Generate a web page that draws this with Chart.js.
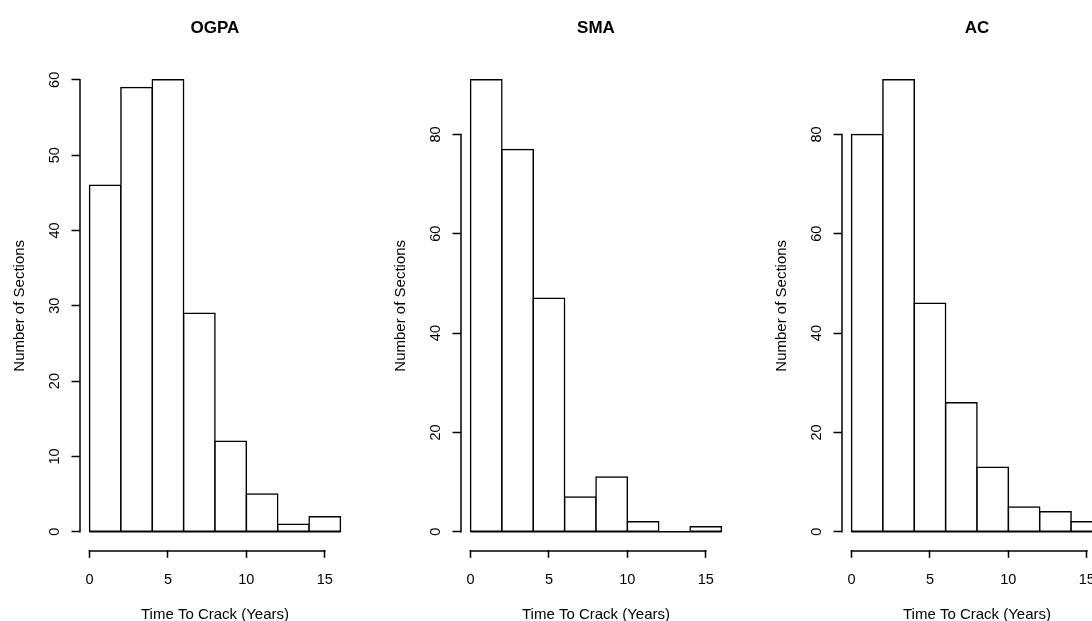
<!DOCTYPE html>
<html>
<head>
<meta charset="utf-8">
<script src="https://cdn.jsdelivr.net/npm/chart.js@4.4.1/dist/chart.umd.min.js"></script>
<style>
  html, body { margin: 0; padding: 0; background: #fff; overflow: hidden; }
  #wrap { position: relative; width: 1092px; height: 621px; overflow: hidden; }
  canvas { position: absolute; top: 0; }
</style>
</head>
<body>
<div id="wrap">
  <canvas id="c-ogpa" width="381" height="621" style="left:0"></canvas>
  <canvas id="c-sma" width="381" height="621" style="left:381px"></canvas>
  <canvas id="c-ac" width="381" height="621" style="left:762px"></canvas>
</div>
<script>
// histogram bins are 2 years wide, these are the bin midpoints
const binMids = [1, 3, 5, 7, 9, 11, 13, 15];
const binRange = [0, 16];

const ogpaCounts = [46, 59, 60, 29, 12, 5, 1, 2];
const smaCounts  = [91, 77, 47, 7, 11, 2, 0, 1];
const acCounts   = [80, 91, 46, 26, 13, 5, 4, 2];

const xTicks = [0, 5, 10, 15];
const ogpaYTicks = [0, 10, 20, 30, 40, 50, 60];
const smaYTicks  = [0, 20, 40, 60, 80];
const acYTicks   = [0, 20, 40, 60, 80];

const INK = '#000';
const FONT = '"Liberation Sans", Arial, sans-serif';
const LW = 1.5; // line width used for outlines and axes

// R-style axis lines: only from first to last tick, plus the zero baseline
const rAxes = {
  id: 'rAxes',
  afterDraw(chart) {
    const { ctx, chartArea, scales: { x, y } } = chart;
    ctx.save();
    ctx.strokeStyle = INK;
    ctx.lineWidth = LW;
    ctx.lineCap = 'butt';
    ctx.beginPath();
    // y axis
    const yl = Math.round(chartArea.left);
    ctx.moveTo(yl, y.getPixelForValue(y.ticks[0].value) + LW / 2);
    ctx.lineTo(yl, y.getPixelForValue(y.ticks[y.ticks.length - 1].value) - LW / 2);
    // x axis
    const xb = Math.round(chartArea.bottom) + 1;
    ctx.moveTo(x.getPixelForValue(x.ticks[0].value) - LW / 2, xb);
    ctx.lineTo(x.getPixelForValue(x.ticks[x.ticks.length - 1].value) + LW / 2, xb);
    // baseline of the histogram (visible under empty bins)
    const y0 = y.getPixelForValue(0);
    ctx.moveTo(x.getPixelForValue(binRange[0]), y0);
    ctx.lineTo(x.getPixelForValue(binRange[1]), y0);
    ctx.stroke();
    ctx.restore();
  }
};

function makeHist(id, title, counts, yTicks) {
  const ymax = Math.max(...counts);
  const xspan = binRange[1] - binRange[0];
  return new Chart(document.getElementById(id), {
    type: 'bar',
    data: {
      datasets: [{
        data: binMids.map((m, i) => ({ x: m, y: counts[i] })),
        backgroundColor: '#fff',
        borderColor: INK,
        borderWidth: LW,
        borderSkipped: false,
        inflateAmount: LW / 2, // centres the outline on the bin edge
        barPercentage: 1,
        categoryPercentage: 1,
      }],
    },
    options: {
      responsive: false,
      animation: false,
      devicePixelRatio: 1,
      events: [],
      layout: { padding: { left: 0, right: 30.5, top: 0, bottom: 0 } },
      plugins: {
        legend: { display: false },
        tooltip: { enabled: false },
        title: {
          display: true,
          text: title,
          fullSize: false,
          color: INK,
          font: { family: FONT, size: 17, weight: 'bold', lineHeight: 1.2 },
          padding: { top: 17.8, bottom: 23.6 },
        },
      },
      scales: {
        x: {
          type: 'linear',
          offset: false,
          min: binRange[0] - 0.04 * xspan,
          max: binRange[1] + 0.04 * xspan,
          afterBuildTicks: s => { s.ticks = xTicks.map(v => ({ value: v })); },
          afterFit: s => { s.height = 71.2; },
          border: { display: false },
          grid: { offset: false, drawOnChartArea: false, tickLength: 8, tickColor: INK, tickWidth: LW },
          ticks: {
            color: INK,
            font: { family: FONT, size: 14.5 },
            padding: 13,
            maxRotation: 0,
            autoSkip: false,
            callback: v => String(v),
          },
          title: {
            display: true,
            text: 'Time To Crack (Years)',
            color: INK,
            font: { family: FONT, size: 15, lineHeight: 0.8 },
            padding: { top: 0, bottom: 0 },
          },
        },
        y: {
          min: -0.04 * ymax,
          max: 1.04 * ymax,
          afterBuildTicks: s => { s.ticks = yTicks.map(v => ({ value: v })); },
          afterFit: s => { s.width = 79.5; },
          border: { display: false },
          grid: { drawOnChartArea: false, tickLength: 8, tickColor: INK, tickWidth: LW },
          ticks: {
            color: INK,
            font: { family: FONT, size: 14.5 },
            minRotation: 90,
            maxRotation: 90,
            crossAlign: 'center',
            padding: 8,
            autoSkip: false,
            callback: v => String(v),
          },
          title: {
            display: true,
            text: 'Number of Sections',
            color: INK,
            font: { family: FONT, size: 15, lineHeight: 1.2 },
            padding: { top: 11, bottom: 0 },
          },
        },
      },
    },
    plugins: [rAxes],
  });
}

makeHist('c-ogpa', 'OGPA', ogpaCounts, ogpaYTicks);
makeHist('c-sma', 'SMA', smaCounts, smaYTicks);
makeHist('c-ac', 'AC', acCounts, acYTicks);
</script>
</body>
</html>
